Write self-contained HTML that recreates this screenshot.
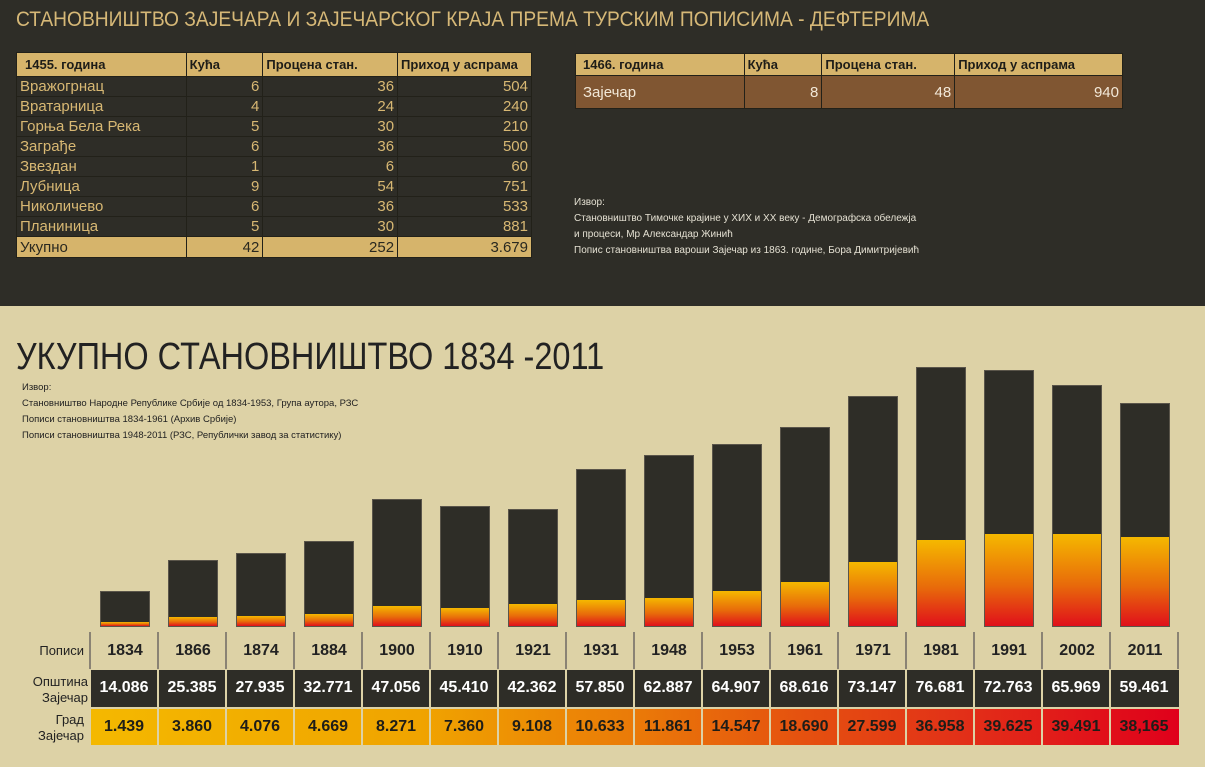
<!DOCTYPE html>
<html><head><meta charset="utf-8"><style>
*{margin:0;padding:0;box-sizing:border-box}
body{width:1205px;height:767px;position:relative;overflow:hidden;background:#ddd2a6;font-family:"Liberation Sans",sans-serif}
.top{position:absolute;left:0;top:0;width:1205px;height:306px;background:#2e2d27}
.a{position:absolute;white-space:nowrap}
table{border-collapse:collapse;position:absolute}
td{border:1.5px solid #222119;padding:0 3px;white-space:nowrap}
.h td{background:#d6b46b;color:#1e1d18;font-weight:bold;font-size:13px}
.r td{color:#d8b873;font-size:15px;background:#2e2d27}
.num{text-align:right}
.tot td{background:#d6b46b;color:#2a2920;font-size:15px}
.bar{position:absolute;width:50px;background:#2e2d27;border:1px solid #5a554a}
.or{position:absolute;left:0;right:0;bottom:0;background:linear-gradient(#f5b800,#e86b0a 55%,#e0101b)}
.yr{position:absolute;top:632px;width:68px;height:37px;text-align:center;line-height:37px;font-weight:bold;font-size:16px;color:#222}
.div{position:absolute;top:632px;width:2px;height:37px;background:#8a8374}
.c{position:absolute;width:66px;height:36px;text-align:center;line-height:36px;font-weight:bold;font-size:16px}
.src{font-size:10px;line-height:16px}
</style></head><body>
<div class="top"></div>
<div class="a" style="left:16px;top:8px;font-size:21px;color:#d6b877;transform:scaleX(0.915);transform-origin:left">СТАНОВНИШТВО ЗАЈЕЧАРА И ЗАЈЕЧАРСКОГ КРАЈА ПРЕМА ТУРСКИМ ПОПИСИМА - ДЕФТЕРИМА</div>

<table style="left:16px;top:52px;width:516px">
<colgroup><col style="width:170px"><col style="width:77px"><col style="width:135px"><col style="width:134px"></colgroup>
<tr class="h" style="height:24px"><td style="padding-left:8px">1455. година</td><td>Кућа</td><td>Процена стан.</td><td>Приход у аспрама</td></tr>
<tr class="r" style="height:20px"><td>Вражогрнац</td><td class="num">6</td><td class="num">36</td><td class="num">504</td></tr>
<tr class="r" style="height:20px"><td>Вратарница</td><td class="num">4</td><td class="num">24</td><td class="num">240</td></tr>
<tr class="r" style="height:20px"><td>Горња Бела Река</td><td class="num">5</td><td class="num">30</td><td class="num">210</td></tr>
<tr class="r" style="height:20px"><td>Заграђе</td><td class="num">6</td><td class="num">36</td><td class="num">500</td></tr>
<tr class="r" style="height:20px"><td>Звездан</td><td class="num">1</td><td class="num">6</td><td class="num">60</td></tr>
<tr class="r" style="height:20px"><td>Лубница</td><td class="num">9</td><td class="num">54</td><td class="num">751</td></tr>
<tr class="r" style="height:20px"><td>Николичево</td><td class="num">6</td><td class="num">36</td><td class="num">533</td></tr>
<tr class="r" style="height:20px"><td>Планиница</td><td class="num">5</td><td class="num">30</td><td class="num">881</td></tr>
<tr class="tot" style="height:21px"><td>Укупно</td><td class="num">42</td><td class="num">252</td><td class="num">3.679</td></tr>
</table>

<table style="left:575px;top:53px;width:548px">
<colgroup><col style="width:169px"><col style="width:78px"><col style="width:133px"><col style="width:168px"></colgroup>
<tr class="h" style="height:22px"><td style="padding-left:7px">1466. година</td><td>Кућа</td><td>Процена стан.</td><td>Приход у аспрама</td></tr>
<tr style="height:33px;background:#805632;color:#f2e8d8;font-size:15px"><td style="padding-left:7px">Зајечар</td><td class="num">8</td><td class="num">48</td><td class="num">940</td></tr>
</table>
<div class="a src" style="left:574px;top:195px;color:#e4e0d2">Извор:<br>Становништво Тимочке крајине у ХИХ и ХХ веку - Демографска обележја<br>и процеси, Мр Александар Жинић<br>Попис становништва вароши Зајечар из 1863. године, Бора Димитријевић</div>

<div class="a" style="left:16px;top:336px;font-size:38px;color:#222;transform:scaleX(0.855);transform-origin:left">УКУПНО СТАНОВНИШТВО 1834 -2011</div>
<div class="a src" style="left:22px;top:380px;color:#222;font-size:9.5px">Извор:<br>Становништво Народне Републике Србије од 1834-1953, Група аутора, РЗС<br>Пописи становништва 1834-1961 (Архив Србије)<br>Пописи становништва 1948-2011 (РЗС, Републички завод за статистику)</div>

<div class="bar" style="left:100px;top:591px;height:36px"><div class="or" style="height:4px"></div></div>
<div class="bar" style="left:168px;top:560px;height:67px"><div class="or" style="height:9px"></div></div>
<div class="bar" style="left:236px;top:553px;height:74px"><div class="or" style="height:10px"></div></div>
<div class="bar" style="left:304px;top:541px;height:86px"><div class="or" style="height:12px"></div></div>
<div class="bar" style="left:372px;top:499px;height:128px"><div class="or" style="height:20px"></div></div>
<div class="bar" style="left:440px;top:506px;height:121px"><div class="or" style="height:18px"></div></div>
<div class="bar" style="left:508px;top:509px;height:118px"><div class="or" style="height:22px"></div></div>
<div class="bar" style="left:576px;top:469px;height:158px"><div class="or" style="height:26px"></div></div>
<div class="bar" style="left:644px;top:455px;height:172px"><div class="or" style="height:28px"></div></div>
<div class="bar" style="left:712px;top:444px;height:183px"><div class="or" style="height:35px"></div></div>
<div class="bar" style="left:780px;top:427px;height:200px"><div class="or" style="height:44px"></div></div>
<div class="bar" style="left:848px;top:396px;height:231px"><div class="or" style="height:64px"></div></div>
<div class="bar" style="left:916px;top:367px;height:260px"><div class="or" style="height:86px"></div></div>
<div class="bar" style="left:984px;top:370px;height:257px"><div class="or" style="height:92px"></div></div>
<div class="bar" style="left:1052px;top:385px;height:242px"><div class="or" style="height:92px"></div></div>
<div class="bar" style="left:1120px;top:403px;height:224px"><div class="or" style="height:89px"></div></div>

<div class="a" style="left:10px;top:643px;width:74px;text-align:right;font-size:13px;color:#222">Пописи</div>
<div class="a" style="left:10px;top:674px;width:78px;text-align:right;font-size:13px;line-height:16px;color:#222">Општина<br>Зајечар</div>
<div class="a" style="left:10px;top:712px;width:74px;text-align:right;font-size:13px;line-height:16px;color:#222">Град<br>Зајечар</div>

<div class="div" style="left:89px"></div><div class="div" style="left:157px"></div><div class="div" style="left:225px"></div><div class="div" style="left:293px"></div><div class="div" style="left:361px"></div><div class="div" style="left:429px"></div><div class="div" style="left:497px"></div><div class="div" style="left:565px"></div><div class="div" style="left:633px"></div><div class="div" style="left:701px"></div><div class="div" style="left:769px"></div><div class="div" style="left:837px"></div><div class="div" style="left:905px"></div><div class="div" style="left:973px"></div><div class="div" style="left:1041px"></div><div class="div" style="left:1109px"></div><div class="div" style="left:1177px"></div>

<div class="yr" style="left:91px">1834</div><div class="yr" style="left:159px">1866</div><div class="yr" style="left:227px">1874</div><div class="yr" style="left:295px">1884</div><div class="yr" style="left:363px">1900</div><div class="yr" style="left:431px">1910</div><div class="yr" style="left:499px">1921</div><div class="yr" style="left:567px">1931</div><div class="yr" style="left:635px">1948</div><div class="yr" style="left:703px">1953</div><div class="yr" style="left:771px">1961</div><div class="yr" style="left:839px">1971</div><div class="yr" style="left:907px">1981</div><div class="yr" style="left:975px">1991</div><div class="yr" style="left:1043px">2002</div><div class="yr" style="left:1111px">2011</div>

<div class="a" style="left:91px;top:670px;width:1088px;height:37px;background:#2e2d27"></div>
<div class="a" style="left:91px;top:709px;width:1088px;height:36px;background:linear-gradient(90deg,#f4b800,#f0a400 30%,#ea7a08 50%,#e5520f 65%,#e23018 80%,#e0001b)"></div>
<div class="a" style="left:157px;top:670px;width:2px;height:75px;background:#ddd2a6"></div><div class="a" style="left:225px;top:670px;width:2px;height:75px;background:#ddd2a6"></div><div class="a" style="left:293px;top:670px;width:2px;height:75px;background:#ddd2a6"></div><div class="a" style="left:361px;top:670px;width:2px;height:75px;background:#ddd2a6"></div><div class="a" style="left:429px;top:670px;width:2px;height:75px;background:#ddd2a6"></div><div class="a" style="left:497px;top:670px;width:2px;height:75px;background:#ddd2a6"></div><div class="a" style="left:565px;top:670px;width:2px;height:75px;background:#ddd2a6"></div><div class="a" style="left:633px;top:670px;width:2px;height:75px;background:#ddd2a6"></div><div class="a" style="left:701px;top:670px;width:2px;height:75px;background:#ddd2a6"></div><div class="a" style="left:769px;top:670px;width:2px;height:75px;background:#ddd2a6"></div><div class="a" style="left:837px;top:670px;width:2px;height:75px;background:#ddd2a6"></div><div class="a" style="left:905px;top:670px;width:2px;height:75px;background:#ddd2a6"></div><div class="a" style="left:973px;top:670px;width:2px;height:75px;background:#ddd2a6"></div><div class="a" style="left:1041px;top:670px;width:2px;height:75px;background:#ddd2a6"></div><div class="a" style="left:1109px;top:670px;width:2px;height:75px;background:#ddd2a6"></div>
<div class="a" style="left:91px;top:707px;width:1088px;height:2px;background:#ddd2a6"></div>

<div style="color:#fff">
<div class="c" style="left:91px;top:670px">14.086</div><div class="c" style="left:159px;top:670px">25.385</div><div class="c" style="left:227px;top:670px">27.935</div><div class="c" style="left:295px;top:670px">32.771</div><div class="c" style="left:363px;top:670px">47.056</div><div class="c" style="left:431px;top:670px">45.410</div><div class="c" style="left:499px;top:670px">42.362</div><div class="c" style="left:567px;top:670px">57.850</div><div class="c" style="left:635px;top:670px">62.887</div><div class="c" style="left:703px;top:670px">64.907</div><div class="c" style="left:771px;top:670px">68.616</div><div class="c" style="left:839px;top:670px">73.147</div><div class="c" style="left:907px;top:670px">76.681</div><div class="c" style="left:975px;top:670px">72.763</div><div class="c" style="left:1043px;top:670px">65.969</div><div class="c" style="left:1111px;top:670px">59.461</div>
</div>
<div style="color:#1e1d18">
<div class="c" style="left:91px;top:709px">1.439</div><div class="c" style="left:159px;top:709px">3.860</div><div class="c" style="left:227px;top:709px">4.076</div><div class="c" style="left:295px;top:709px">4.669</div><div class="c" style="left:363px;top:709px">8.271</div><div class="c" style="left:431px;top:709px">7.360</div><div class="c" style="left:499px;top:709px">9.108</div><div class="c" style="left:567px;top:709px">10.633</div><div class="c" style="left:635px;top:709px">11.861</div><div class="c" style="left:703px;top:709px">14.547</div><div class="c" style="left:771px;top:709px">18.690</div><div class="c" style="left:839px;top:709px">27.599</div><div class="c" style="left:907px;top:709px">36.958</div><div class="c" style="left:975px;top:709px">39.625</div><div class="c" style="left:1043px;top:709px">39.491</div><div class="c" style="left:1111px;top:709px">38,165</div>
</div>
</body></html>
